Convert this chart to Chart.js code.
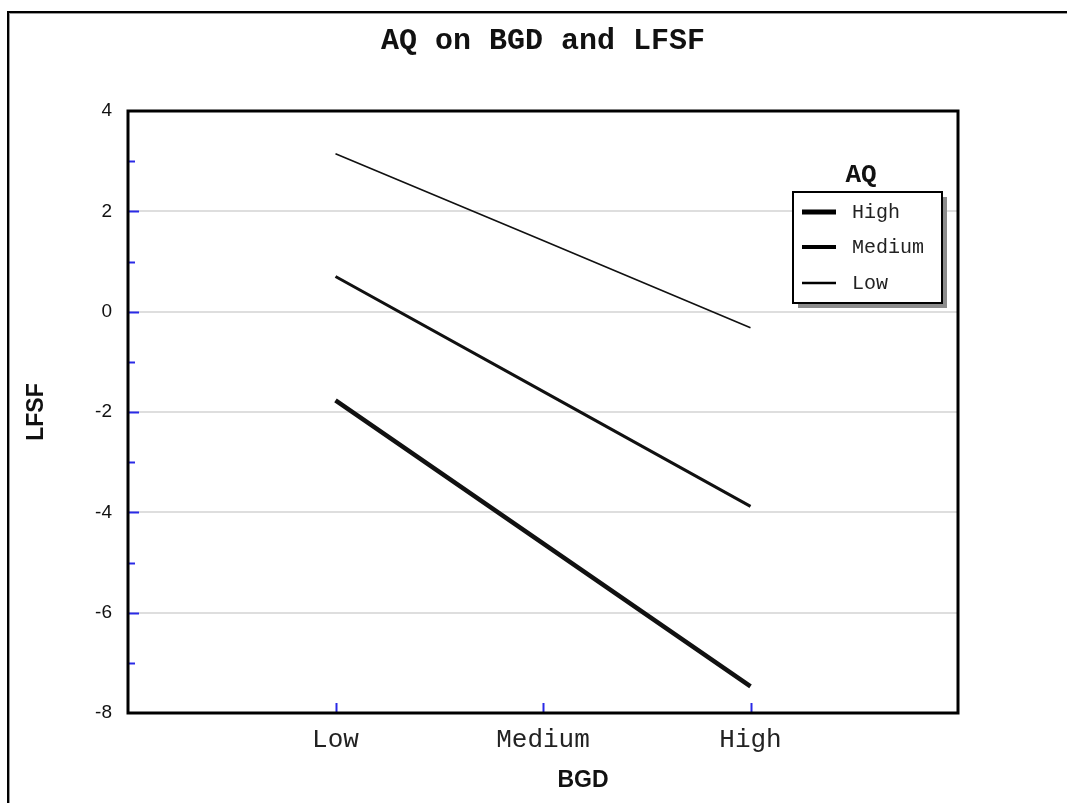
<!DOCTYPE html>
<html>
<head>
<meta charset="utf-8">
<script src="https://cdn.jsdelivr.net/npm/chart.js@4.4.1/dist/chart.umd.min.js"></script>
<style>
  html, body { margin: 0; padding: 0; background: #fff; }
  #wrap { width: 1067px; height: 803px; }
</style>
</head>
<body>
<div id="wrap"><canvas id="c" width="1067" height="803"></canvas></div>
<script>
// ---- data ----
const chartTitle = 'AQ on BGD and LFSF';
const xTitle = 'BGD';
const yTitle = 'LFSF';
const legendTitle = 'AQ';
const bgdCategories = ['Low', 'Medium', 'High'];
const seriesLabels = ['High', 'Medium', 'Low'];
const aqHigh   = [-1.77, -4.62, -7.47];
const aqMedium = [0.70, -1.59, -3.88];
const aqLow    = [3.15, 1.42, -0.32];
const yMin = -8, yMax = 4;
const lineWidths = [4.5, 3, 1.6];

const seriesValues = [aqHigh, aqMedium, aqLow];

const datasets = seriesLabels.map((lab, k) => ({
  label: lab,
  data: seriesValues[k].map((v, i) => ({ x: i + 1, y: v })),
  borderColor: '#111',
  backgroundColor: '#111',
  borderWidth: lineWidths[k],
  pointRadius: 0,
  tension: 0,
  fill: false
}));

const TICK_BLUE = '#2a2ae6';

const deco = {
  id: 'deco',
  beforeDraw(chart) {
    const ctx = chart.ctx;
    ctx.save();
    ctx.fillStyle = '#fff';
    ctx.fillRect(0, 0, chart.width, chart.height);
    // outer frame (top and left edges visible)
    ctx.fillStyle = '#000';
    ctx.fillRect(7, 11, chart.width - 7, 2);
    ctx.fillRect(7, 11, 2, chart.height - 11);
    ctx.fillStyle = '#9a9a9a';
    ctx.fillRect(9, 13, chart.width - 9, 1);
    ctx.fillRect(9, 13, 1, chart.height - 13);
    ctx.restore();
  },
  afterDraw(chart) {
    const ctx = chart.ctx;
    const a = chart.chartArea;
    const xs = chart.scales.x, ys = chart.scales.y;
    ctx.save();
    // blue tick marks inside the plot
    ctx.strokeStyle = TICK_BLUE;
    ctx.lineWidth = 2;
    ys.ticks.forEach(t => {
      if (t.value <= yMin || t.value >= yMax) return;
      const py = Math.round(ys.getPixelForValue(t.value)) + 0.5;
      const len = (Math.round(t.value) % 2 === 0) ? 11 : 7;
      ctx.beginPath();
      ctx.moveTo(a.left, py);
      ctx.lineTo(a.left + len, py);
      ctx.stroke();
    });
    bgdCategories.forEach((c, i) => {
      const px = Math.round(xs.getPixelForValue(i + 1)) + 0.5;
      ctx.beginPath();
      ctx.moveTo(px, a.bottom);
      ctx.lineTo(px, a.bottom - 10);
      ctx.stroke();
    });
    // plot frame
    ctx.strokeStyle = '#000';
    ctx.lineWidth = 3;
    ctx.strokeRect(a.left, a.top, a.right - a.left, a.bottom - a.top);

    // title
    ctx.fillStyle = '#111';
    ctx.textAlign = 'center';
    ctx.textBaseline = 'middle';
    ctx.font = 'bold 30px "Liberation Mono", "DejaVu Sans Mono", monospace';
    ctx.fillText(chartTitle, (a.left + a.right) / 2, 41);

    // x axis title
    ctx.font = 'bold 23px "Liberation Sans", Arial, sans-serif';
    ctx.fillText(xTitle, 583, 781);

    // legend
    const bx = 793, by = 192, bw = 149, bh = 111;
    ctx.fillStyle = '#8c8c8c';
    ctx.fillRect(bx + 5, by + 5, bw, bh);
    ctx.fillStyle = '#fff';
    ctx.fillRect(bx, by, bw, bh);
    ctx.strokeStyle = '#000';
    ctx.lineWidth = 2;
    ctx.strokeRect(bx, by, bw, bh);
    ctx.fillStyle = '#111';
    ctx.font = 'bold 26px "Liberation Mono", "DejaVu Sans Mono", monospace';
    ctx.fillText(legendTitle, 861, 175);
    ctx.font = '20px "Liberation Mono", "DejaVu Sans Mono", monospace';
    ctx.textAlign = 'left';
    const rowY = [212, 247, 283];
    const sampleW = [5, 4, 2.5];
    chart.data.datasets.forEach((ds, k) => {
      ctx.strokeStyle = '#000';
      ctx.lineWidth = sampleW[k];
      ctx.beginPath();
      ctx.moveTo(802, rowY[k]);
      ctx.lineTo(836, rowY[k]);
      ctx.stroke();
      ctx.fillStyle = '#222';
      ctx.fillText(ds.label, 852, rowY[k] + 1);
    });
    ctx.restore();
  }
};

new Chart(document.getElementById('c'), {
  type: 'line',
  data: { datasets },
  options: {
    responsive: false,
    devicePixelRatio: 1,
    animation: false,
    layout: { padding: { left: 10, top: 111, right: 109, bottom: 0 } },
    plugins: { legend: { display: false }, title: { display: false }, tooltip: { enabled: false } },
    scales: {
      x: {
        type: 'linear',
        min: 0, max: bgdCategories.length + 1,
        afterFit(s) { s.height = 90; },
        afterBuildTicks(s) {
          s.ticks = [0, 1, 2, 3, 4].map(v => ({ value: v }));
        },
        grid: { display: false, drawTicks: false },
        border: { display: false },
        ticks: {
          autoSkip: false, maxRotation: 0, padding: 12,
          color: '#222',
          font: { family: '"Liberation Mono", "DejaVu Sans Mono", monospace', size: 26 },
          callback: (v) => bgdCategories[v - 1] || ''
        },
        title: { display: false }
      },
      y: {
        type: 'linear',
        min: yMin, max: yMax,
        afterFit(s) { s.width = 118; },
        grid: {
          drawTicks: false,
          lineWidth: 2,
          color: (c) => {
            const v = c.tick ? c.tick.value : null;
            if (v === null || v <= yMin || v >= yMax) return 'rgba(0,0,0,0)';
            return (Math.round(v) % 2 === 0) ? '#dedede' : 'rgba(0,0,0,0)';
          }
        },
        border: { display: false },
        ticks: {
          stepSize: 1, autoSkip: false, padding: 16,
          color: '#111',
          font: { family: '"Liberation Sans", Arial, sans-serif', size: 19 },
          callback: (v) => (Math.round(v) % 2 === 0) ? String(v) : ''
        },
        title: {
          display: true, text: yTitle, color: '#111',
          padding: { top: 13, bottom: 0 },
          font: { family: '"Liberation Sans", Arial, sans-serif', size: 23, weight: 'bold' }
        }
      }
    }
  },
  plugins: [deco]
});
</script>
</body>
</html>
